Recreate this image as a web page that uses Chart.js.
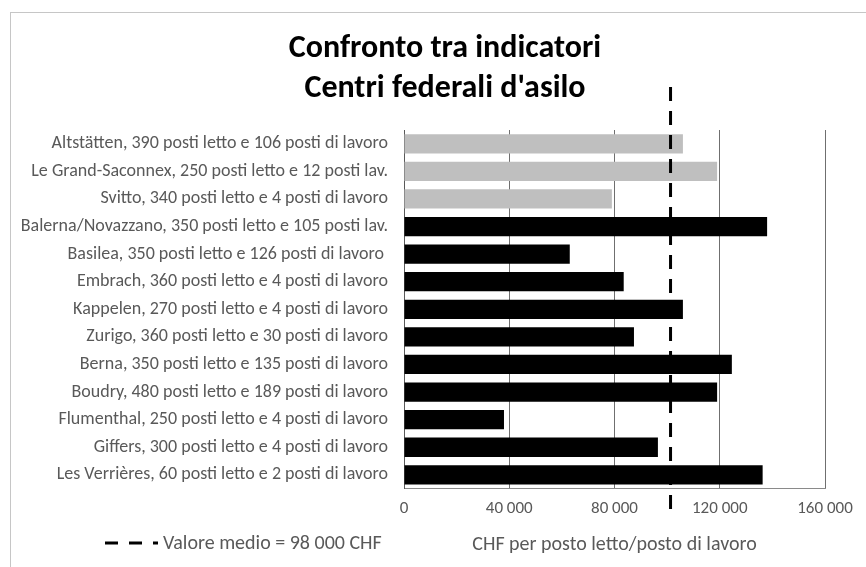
<!DOCTYPE html>
<html>
<head>
<meta charset="utf-8">
<script src="https://cdn.jsdelivr.net/npm/chart.js@4/dist/chart.umd.min.js"></script>
<style>
  body { margin: 0; background: #fff; }
  #frame { position: absolute; left: 10px; top: 12px; right: 0; bottom: 0; border-left: 1px solid #c6c6c6; border-top: 1px solid #c6c6c6; }
  #wrap { position: absolute; left: 0; top: 0; width: 866px; height: 567px; }
  #title { position: absolute; left: 0; top: 27px; width: 890px; text-align: center; font: bold 32px Carlito, Calibri, Lato, sans-serif; line-height: 40px; color: #000; }
</style>
</head>
<body>
<div id="frame"></div>
<div id="wrap"><canvas id="chart" width="866" height="567"></canvas></div>
<div id="title">Confronto tra indicatori<br>Centri federali d'asilo</div>
<script>
const centres = [
  "Altstätten, 390 posti letto e 106 posti di lavoro",
  "Le Grand-Saconnex, 250 posti letto e 12 posti lav.",
  "Svitto, 340 posti letto e 4 posti di lavoro",
  "Balerna/Novazzano, 350 posti letto e 105 posti lav.",
  "Basilea, 350 posti letto e 126 posti di lavoro ",
  "Embrach, 360 posti letto e 4 posti di lavoro",
  "Kappelen, 270 posti letto e 4 posti di lavoro",
  "Zurigo, 360 posti letto e 30 posti di lavoro",
  "Berna, 350 posti letto e 135 posti di lavoro",
  "Boudry, 480 posti letto e 189 posti di lavoro",
  "Flumenthal, 250 posti letto e 4 posti di lavoro",
  "Giffers, 300 posti letto e 4 posti di lavoro",
  "Les Verrières, 60 posti letto e 2 posti di lavoro"
];
const costPerPlace = [106000, 119000, 79000, 138000, 63000, 83500, 106000, 87400, 124600, 119000, 38000, 96500, 136300];
const planned = [true, true, true, false, false, false, false, false, false, false, false, false, false];
const meanLine = 101300;
const meanLabel = "Valore medio = 98 000 CHF";
const xTicks = [0, 40000, 80000, 120000, 160000];

const fontFam = "Carlito, Calibri, Lato, sans-serif";
const grey = "#595959";

const meanPlugin = {
  id: "meanLine",
  afterDatasetsDraw(chart) {
    const ctx = chart.ctx;
    const area = chart.chartArea;
    const x = chart.scales.x.getPixelForValue(meanLine);
    ctx.save();
    ctx.strokeStyle = "#000";
    ctx.lineWidth = 3;
    ctx.setLineDash([14, 10]);
    ctx.beginPath();
    ctx.moveTo(x, area.top - 43);
    ctx.lineTo(x, area.bottom + 21);
    ctx.stroke();

    // legend, bottom left
    const ly = 543;
    ctx.setLineDash([13, 11]);
    ctx.beginPath();
    ctx.moveTo(105, ly);
    ctx.lineTo(158, ly);
    ctx.stroke();
    ctx.setLineDash([]);
    ctx.fillStyle = grey;
    ctx.font = "20px " + fontFam;
    ctx.textBaseline = "middle";
    ctx.fillText(meanLabel, 163, ly + 1);
    ctx.restore();
  }
};

new Chart(document.getElementById("chart"), {
  type: "bar",
  data: {
    labels: centres,
    datasets: [{
      data: costPerPlace,
      backgroundColor: planned.map(p => p ? "#bfbfbf" : "#000000"),
      barPercentage: 0.7,
      categoryPercentage: 1
    }]
  },
  options: {
    indexAxis: "y",
    responsive: false,
    animation: false,
    layout: { padding: { left: 10, right: 41, top: 130, bottom: 6 } },
    plugins: {
      legend: { display: false },
      tooltip: { enabled: false },
      title: { display: false }
    },
    scales: {
      x: {
        min: 0,
        max: 160000,
        afterBuildTicks: s => { s.ticks = xTicks.map(v => ({ value: v })); },
        ticks: {
          color: grey,
          font: { family: fontFam, size: 17 },
          padding: 10,
          callback: v => v.toLocaleString("en-US").replace(/,/g, " ")
        },
        grid: { color: "#6f6f6f", drawTicks: false },
        border: { color: "#8a8a8a" },
        title: {
          display: true,
          text: "CHF per posto letto/posto di lavoro",
          color: grey,
          font: { family: fontFam, size: 20 },
          padding: { top: 4 }
        }
      },
      y: {
        afterFit: s => { s.width = 404 - 10; },
        ticks: {
          color: grey,
          font: { family: fontFam, size: 18 },
          padding: 16
        },
        grid: { display: false, drawTicks: false },
        border: { color: "#595959" }
      }
    }
  },
  plugins: [meanPlugin]
});
</script>
</body>
</html>
